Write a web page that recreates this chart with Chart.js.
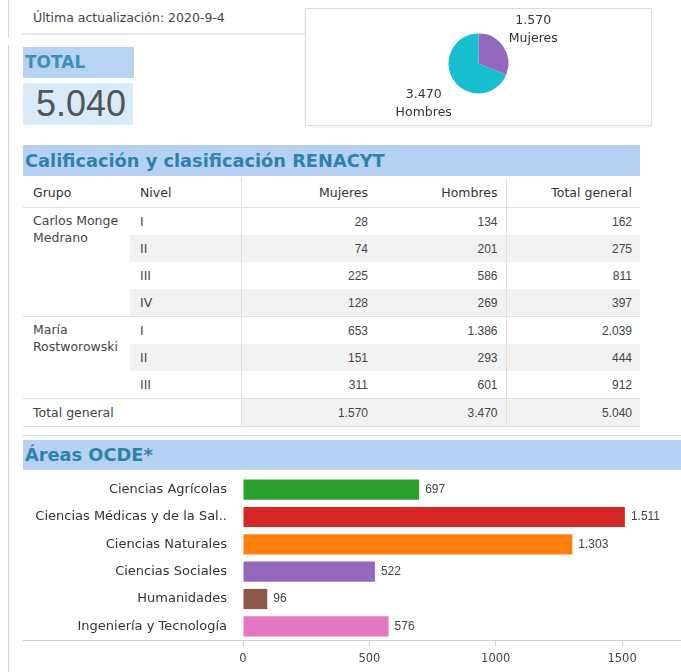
<!DOCTYPE html>
<html>
<head>
<meta charset="utf-8">
<script src="https://cdn.jsdelivr.net/npm/chart.js@4.4.1/dist/chart.umd.min.js"></script>
<style>
body { margin: 0; width: 681px; height: 672px; overflow: hidden; background: #fff; position: relative;
	font-family: "DejaVu Sans", sans-serif; color: #333; }
.abs { position: absolute; }
.edge { left: 8px; width: 1px; }
#update { left: 22px; top: 8px; width: 272px; height: 25px; padding-left: 11px; border-bottom: 2px solid #e8e8e8;
	font-size: 12.5px; line-height: 20px; color: #444; }
#pieBox { left: 305px; top: 8px; width: 345px; height: 116px; border: 1px solid #dcdcdc; box-shadow: 0 1px 2px rgba(0,0,0,0.08); }
#totLbl { left: 23px; top: 47px; width: 109px; height: 31px; padding-left: 2px; background: #b8d3f1;
	font-weight: bold; font-size: 17px; line-height: 31px; color: #3f90b8; }
#totVal { left: 23px; top: 83px; width: 110px; height: 42px; background: #d9eaf9; padding-left: 6px; box-sizing: border-box;
	font-family: "Liberation Sans", Arial, sans-serif; font-size: 36px; line-height: 42px; color: #555; text-align: center; }
.sec { left: 23px; background: #b6d1f1; color: #2c84ab; font-weight: bold; font-size: 17.8px; padding-left: 2px; }
#sec1 { top: 145px; width: 615px; height: 31px; line-height: 31px; }
#sec2 { top: 440px; width: 656px; height: 30px; line-height: 30px; }
#blueLine { left: 23px; top: 435px; width: 658px; height: 1px; background: #c4dcf3; }
table { left: 23px; top: 178px; width: 617px; border-collapse: collapse; table-layout: fixed; font-size: 12.5px; color: #444; }
td { padding: 0 8px 0 10px; height: 27px; white-space: nowrap; }
td.n { text-align: right; font-family: "Liberation Sans", Arial, sans-serif; font-size: 12px; }
tr.hd td.n { font-family: "DejaVu Sans", sans-serif; font-size: 12.5px; }
td.l { border-left: 1px solid #dedede; }
td.sh { background: #f2f2f2; }
td.g { vertical-align: top; white-space: normal; padding-top: 4px; line-height: 17px; height: auto; }
tr.hd td { height: 29px; border-bottom: 1px solid #dedede; color: #333; }
tr.sep td { border-top: 1px solid #dedede; }
tr.tot td { height: 27px; border-top: 1px solid #dedede; border-bottom: 1px solid #dedede; }
</style>
</head>
<body>
<div class="abs edge" style="top:0;height:38px;background:#c7daf0"></div>
<div class="abs edge" style="top:45px;height:627px;background:#d4d4d4"></div>
<div class="abs" id="update">Última actualización: 2020-9-4</div>
<div class="abs" id="pieBox"><canvas id="pieChart" width="345" height="116"></canvas></div>
<div class="abs" id="totLbl">TOTAL</div>
<div class="abs" id="totVal"></div>
<div class="abs sec" id="sec1">Calificación y clasificación RENACYT</div>
<table class="abs" id="tabla">
	<colgroup><col style="width:107px"><col style="width:111px"><col style="width:135px"><col style="width:130px"><col style="width:134px"></colgroup>
	<tbody id="tbody"></tbody>
</table>
<div class="abs" id="blueLine"></div>
<div class="abs sec" id="sec2">Áreas OCDE*</div>
<canvas class="abs" id="barChart" width="658" height="200" style="left:23px;top:472px"></canvas>

<script>
// Datos
const sexos = ['Mujeres', 'Hombres'];
const totalesSexo = [1570, 3470];
const sexoColores = ['#9467bd', '#17becf'];

const grupos = ['Carlos Monge Medrano', 'María Rostworowski'];
const niveles = [['I', 'II', 'III', 'IV'], ['I', 'II', 'III']];
const mujeres = [28, 74, 225, 128, 653, 151, 311];
const hombres = [134, 201, 586, 269, 1386, 293, 601];
const totalGeneral = [162, 275, 811, 397, 2039, 444, 912];

const areas = ['Ciencias Agrícolas', 'Ciencias Médicas y de la Sal..', 'Ciencias Naturales', 'Ciencias Sociales', 'Humanidades', 'Ingeniería y Tecnología'];
const areaValores = [697, 1511, 1303, 522, 96, 576];
const areaColores = ['#2ca02c', '#d62728', '#ff7f0e', '#9467bd', '#8c564b', '#e377c2'];
const areaTicks = [0, 500, 1000, 1500];

function fmt(n) {
	return String(n).replace(/\B(?=(\d{3})+(?!\d))/g, '.');
}
const suma = arr => arr.reduce((a, b) => a + b, 0);

document.getElementById('totVal').textContent = fmt(suma(totalesSexo));

// Tabla RENACYT
let html = '<tr class="hd"><td>Grupo</td><td>Nivel</td><td class="n l">Mujeres</td><td class="n">Hombres</td><td class="n l">Total general</td></tr>';
let k = 0;
grupos.forEach((g, gi) => {
	niveles[gi].forEach((nv, ni) => {
		const sh = k % 2 === 1 ? ' sh' : '';
		html += '<tr class="' + (ni === 0 && gi > 0 ? 'sep' : '') + '">';
		if (ni === 0) html += '<td class="g" rowspan="' + niveles[gi].length + '">' + g + '</td>';
		html += '<td class="' + sh + '">' + nv + '</td>'
			+ '<td class="n l' + sh + '">' + fmt(mujeres[k]) + '</td>'
			+ '<td class="n' + sh + '">' + fmt(hombres[k]) + '</td>'
			+ '<td class="n l' + sh + '">' + fmt(totalGeneral[k]) + '</td></tr>';
		k++;
	});
});
html += '<tr class="tot"><td colspan="2">Total general</td>'
	+ '<td class="n l sh">' + fmt(suma(mujeres)) + '</td>'
	+ '<td class="n sh">' + fmt(suma(hombres)) + '</td>'
	+ '<td class="n l sh">' + fmt(suma(totalGeneral)) + '</td></tr>';
document.getElementById('tbody').innerHTML = html;

// Etiquetas del pastel
const pieLabels = {
	id: 'pieLabels',
	afterDatasetsDraw(chart) {
		const ctx = chart.ctx;
		ctx.save();
		ctx.font = '12.5px "DejaVu Sans"';
		ctx.fillStyle = '#333';
		ctx.textAlign = 'center';
		ctx.textBaseline = 'middle';
		chart.getDatasetMeta(0).data.forEach((arc, i) => {
			const mid = (arc.startAngle + arc.endAngle) / 2;
			const r = arc.outerRadius * 2.2;
			const x = arc.x + Math.cos(mid) * r;
			const y = arc.y + Math.sin(mid) * r + 3;
			ctx.fillText(fmt(totalesSexo[i]), x, y - 9);
			ctx.fillText(sexos[i], x, y + 9);
		});
		ctx.restore();
	}
};

new Chart(document.getElementById('pieChart'), {
	type: 'pie',
	data: {
		labels: sexos,
		datasets: [{ data: totalesSexo, backgroundColor: sexoColores, borderWidth: 0 }]
	},
	options: {
		responsive: false,
		animation: false,
		radius: 30,
		layout: { padding: { bottom: 7 } },
		plugins: { legend: { display: false }, tooltip: { enabled: false } }
	},
	plugins: [pieLabels]
});

// Valores de las barras y línea base
const barLabels = {
	id: 'barLabels',
	afterDatasetsDraw(chart) {
		const ctx = chart.ctx;
		ctx.save();
		ctx.font = '12px "Liberation Sans", Arial';
		ctx.fillStyle = '#444';
		ctx.textBaseline = 'middle';
		chart.getDatasetMeta(0).data.forEach((bar, i) => {
			ctx.fillText(fmt(areaValores[i]), bar.x + 6, bar.y);
		});
		const y = Math.round(chart.chartArea.bottom) + 0.5;
		ctx.strokeStyle = '#d0d0d0';
		ctx.lineWidth = 1;
		ctx.beginPath();
		ctx.moveTo(0, y);
		ctx.lineTo(chart.width, y);
		ctx.stroke();
		ctx.restore();
	}
};

new Chart(document.getElementById('barChart'), {
	type: 'bar',
	data: {
		labels: areas,
		datasets: [{ data: areaValores, backgroundColor: areaColores, barPercentage: 0.74, categoryPercentage: 1 }]
	},
	options: {
		indexAxis: 'y',
		responsive: false,
		animation: false,
		layout: { padding: { top: 4 } },
		plugins: { legend: { display: false }, tooltip: { enabled: false } },
		scales: {
			x: {
				min: 0,
				max: 1733,
				afterBuildTicks: s => { s.ticks = areaTicks.map(v => ({ value: v })); },
				afterFit: s => { s.height = 32; },
				ticks: { color: '#444', font: { family: 'DejaVu Sans', size: 11.5 }, padding: 6, callback: v => String(v) },
				grid: { drawOnChartArea: false, tickLength: 6, color: '#cfcfcf' },
				border: { display: false }
			},
			y: {
				afterFit: s => { s.width = 220; s.paddingTop = 0; s.paddingBottom = 0; },
				grid: { display: false },
				border: { display: false },
				ticks: { color: '#333', font: { family: 'DejaVu Sans', size: 13 }, padding: 8 }
			}
		}
	},
	plugins: [barLabels]
});
</script>
</body>
</html>
